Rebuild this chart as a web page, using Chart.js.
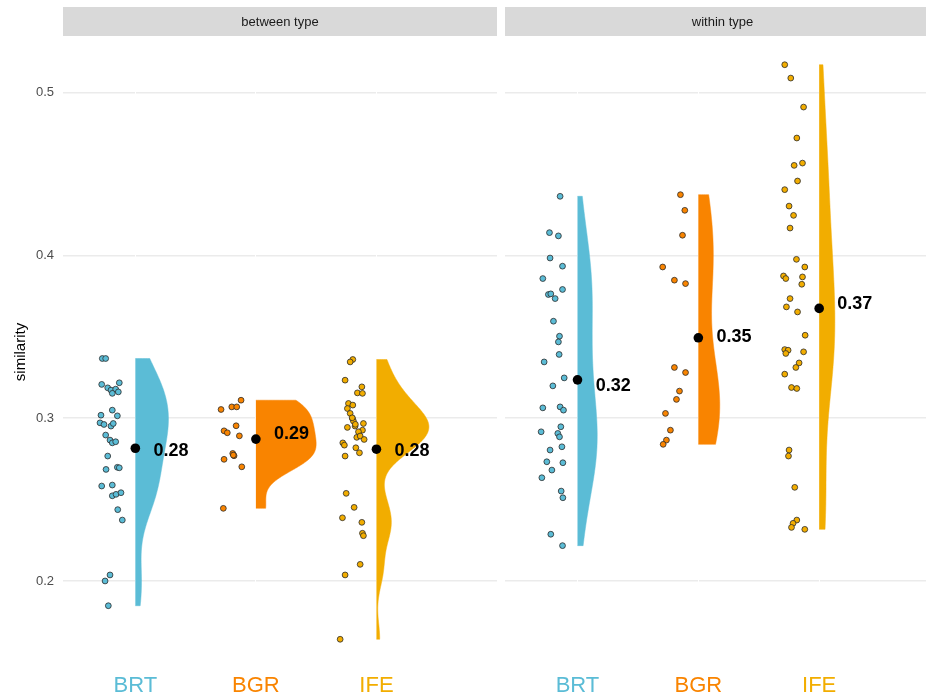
<!DOCTYPE html>
<html>
<head>
<meta charset="utf-8">
<script src="https://cdn.jsdelivr.net/npm/chart.js@4.4.0/dist/chart.umd.min.js"></script>
<style>
  html, body { margin: 0; padding: 0; background: #fff; width: 926px; height: 700px; overflow: hidden; }
  canvas { position: absolute; top: 0; }
  #left { left: 0; }
  #right { left: 505px; }
</style>
</head>
<body>
<canvas id="left" width="497" height="700"></canvas>
<canvas id="right" width="435" height="700"></canvas>
<script>
// categories, colours, facets
const categories = ['BRT', 'BGR', 'IFE'];
const colors = ['#5BBCD6', '#F98400', '#F2AD00'];
const panels = ['between type', 'within type'];
const yTicks = [0.2, 0.3, 0.4, 0.5];

// --- between type: similarity values + jitter offset (category units) ---
const betweenBRT = [0.3366, 0.3366, 0.3207, 0.3186, 0.3172, 0.3178, 0.3217, 0.3152, 0.3161, 0.3049,
  0.3018, 0.3014, 0.2971, 0.2961, 0.2951, 0.2967, 0.2896, 0.2865, 0.2848, 0.2855,
  0.2767, 0.2685, 0.2698, 0.2695, 0.2583, 0.2589, 0.2523, 0.2532, 0.2542, 0.2438,
  0.2374, 0.2037, 0.2000, 0.1848];
const betweenBRTjit = [-0.274, -0.246, -0.279, -0.229, -0.202, -0.163, -0.133, -0.191, -0.141, -0.191,
  -0.285, -0.149, -0.293, -0.260, -0.202, -0.183, -0.246, -0.210, -0.191, -0.163,
  -0.229, -0.243, -0.149, -0.133, -0.279, -0.191, -0.191, -0.160, -0.119, -0.146,
  -0.108, -0.210, -0.251, -0.224];

const betweenBGR = [0.3110, 0.3069, 0.3069, 0.3053, 0.2953, 0.2922, 0.2910, 0.2891, 0.2783, 0.2769,
  0.2773, 0.2747, 0.2701, 0.2446];
const betweenBGRjit = [-0.123, -0.200, -0.159, -0.289, -0.164, -0.264, -0.237, -0.137, -0.192, -0.181,
  -0.187, -0.264, -0.117, -0.270];

const betweenIFE = [0.3360, 0.3345, 0.3233, 0.3192, 0.3155, 0.3152, 0.3090, 0.3080, 0.3059, 0.3029,
  0.2998, 0.2982, 0.2943, 0.2951, 0.2967, 0.2926, 0.2916, 0.2882, 0.2890, 0.2869,
  0.2848, 0.2834, 0.2818, 0.2787, 0.2767, 0.2538, 0.2452, 0.2388, 0.2360, 0.2293,
  0.2278, 0.2102, 0.2037, 0.1642, 0.3002, 0.2962];
const betweenIFEjit = [-0.196, -0.218, -0.260, -0.121, -0.158, -0.116, -0.232, -0.196, -0.241, -0.218,
  -0.199, -0.191, -0.241, -0.177, -0.108, -0.116, -0.149, -0.163, -0.135, -0.102,
  -0.279, -0.266, -0.171, -0.141, -0.260, -0.251, -0.185, -0.282, -0.121, -0.116,
  -0.108, -0.135, -0.260, -0.301, -0.201, -0.175];

// --- within type ---
const withinBRT = [0.4362, 0.4139, 0.4119, 0.3983, 0.3933, 0.3857, 0.3759, 0.3763, 0.3734, 0.3790,
  0.3595, 0.3503, 0.3468, 0.3391, 0.3345, 0.3247, 0.3198, 0.3063, 0.3069, 0.3049,
  0.2916, 0.2947, 0.2906, 0.2885, 0.2804, 0.2824, 0.2732, 0.2726, 0.2681, 0.2634,
  0.2552, 0.2511, 0.2287, 0.2217];
const withinBRTjit = [-0.144, -0.232, -0.158, -0.227, -0.124, -0.287, -0.241, -0.221, -0.185, -0.124,
  -0.199, -0.149, -0.158, -0.152, -0.276, -0.110, -0.204, -0.287, -0.144, -0.116,
  -0.301, -0.138, -0.163, -0.149, -0.227, -0.129, -0.254, -0.121, -0.212, -0.295,
  -0.135, -0.121, -0.221, -0.124];

const withinBGR = [0.4372, 0.4276, 0.4123, 0.3928, 0.3847, 0.3826, 0.3311, 0.3280, 0.3166, 0.3115,
  0.3029, 0.2926, 0.2865, 0.2839];
const withinBGRjit = [-0.148, -0.112, -0.131, -0.295, -0.198, -0.106, -0.198, -0.106, -0.156, -0.181,
  -0.272, -0.231, -0.264, -0.291];

const withinIFE = [0.5170, 0.5088, 0.4910, 0.4720, 0.4552, 0.4566, 0.4456, 0.4403, 0.4302, 0.4245,
  0.4167, 0.3975, 0.3928, 0.3873, 0.3857, 0.3867, 0.3822, 0.3734, 0.3683, 0.3652,
  0.3509, 0.3421, 0.3417, 0.3397, 0.3407, 0.3339, 0.3311, 0.3270, 0.3188, 0.3182,
  0.2804, 0.2767, 0.2575, 0.2374, 0.2354, 0.2329, 0.2317];
const withinIFEjit = [-0.285, -0.235, -0.129, -0.185, -0.207, -0.138, -0.179, -0.285, -0.249, -0.212,
  -0.241, -0.188, -0.119, -0.295, -0.276, -0.138, -0.144, -0.241, -0.271, -0.179,
  -0.116, -0.285, -0.257, -0.276, -0.129, -0.166, -0.193, -0.285, -0.229, -0.185,
  -0.249, -0.254, -0.202, -0.185, -0.216, -0.229, -0.119];

const groups = [
  [{ v: betweenBRT, j: betweenBRTjit }, { v: betweenBGR, j: betweenBGRjit }, { v: betweenIFE, j: betweenIFEjit }],
  [{ v: withinBRT, j: withinBRTjit }, { v: withinBGR, j: withinBGRjit }, { v: withinIFE, j: withinIFEjit }]
];

const FONT = "'Liberation Sans', Arial, sans-serif";

// helpers
const mean = a => a.reduce((s, x) => s + x, 0) / a.length;

function quantile(sorted, p) {
  const h = (sorted.length - 1) * p;
  const lo = Math.floor(h);
  const hi = Math.min(lo + 1, sorted.length - 1);
  return sorted[lo] + (h - lo) * (sorted[hi] - sorted[lo]);
}

// R's bw.nrd0
function bandwidth(a) {
  const s = a.slice().sort((p, q) => p - q);
  const m = mean(a);
  const sd = Math.sqrt(a.reduce((t, x) => t + (x - m) * (x - m), 0) / (a.length - 1));
  const iqr = quantile(s, 0.75) - quantile(s, 0.25);
  const lo = Math.min(sd, iqr / 1.34);
  return 0.9 * lo * Math.pow(a.length, -0.2);
}

// gaussian kde, trimmed to the data range
function density(a, n = 256) {
  const bw = bandwidth(a);
  const lo = Math.min(...a), hi = Math.max(...a);
  const out = [];
  for (let i = 0; i < n; i++) {
    const y = lo + (hi - lo) * i / (n - 1);
    let d = 0;
    a.forEach(x => { const z = (y - x) / bw; d += Math.exp(-0.5 * z * z); });
    out.push({ y, d: d / (a.length * bw * Math.sqrt(2 * Math.PI)) });
  }
  return out;
}

const dens = groups.map(p => p.map(g => density(g.v)));
const maxDens = Math.max(...dens.flat().map(c => Math.max(...c.map(o => o.d))));
const HALF = 0.5; // widest violin reaches half a category

const allVals = groups.flat().flatMap(g => g.v);
const vMin = Math.min(...allVals), vMax = Math.max(...allVals);
const yMin = vMin - 0.05 * (vMax - vMin);
const yMax = vMax + 0.05 * (vMax - vMin);

function violin(curve, c) {
  const pts = [{ x: c, y: curve[0].y }];
  curve.forEach(o => pts.push({ x: c + o.d / maxDens * HALF, y: o.y }));
  pts.push({ x: c, y: curve[curve.length - 1].y });
  return pts;
}

// facet strip on top of each panel
const stripPlugin = label => ({
  id: 'strip',
  beforeDraw(chart) {
    const { ctx, chartArea: a } = chart;
    ctx.save();
    ctx.fillStyle = '#d9d9d9';
    ctx.fillRect(a.left, 7, a.right - a.left, 29);
    ctx.fillStyle = '#1a1a1a';
    ctx.font = '13px ' + FONT;
    ctx.textAlign = 'center';
    ctx.textBaseline = 'middle';
    ctx.fillText(label, (a.left + a.right) / 2, 22);
    ctx.restore();
  }
});

// rounded mean labels next to the black dots
const meanLabels = p => ({
  id: 'meanLabels',
  afterDatasetsDraw(chart) {
    const { ctx, scales: { x, y } } = chart;
    ctx.save();
    ctx.font = 'bold 18px ' + FONT;
    ctx.fillStyle = '#000';
    ctx.textAlign = 'left';
    ctx.textBaseline = 'middle';
    groups[p].forEach((g, i) => {
      const m = Math.round(mean(g.v) * 100) / 100;
      ctx.fillText(m.toFixed(2), x.getPixelForValue(i + 1 + 0.15), y.getPixelForValue(m));
    });
    ctx.restore();
  }
});

function makePanel(id, p, withAxis) {
  const datasets = [];
  groups[p].forEach((g, i) => {
    // tiny tension keeps chart.js off its fast path (which collapses near-vertical lines)
    datasets.push({
      type: 'line', data: violin(dens[p][i], i + 1), fill: 'shape',
      backgroundColor: colors[i], borderColor: colors[i], borderWidth: 0.5,
      pointRadius: 0, tension: 0.0001, order: 3
    });
    datasets.push({
      type: 'scatter', data: g.v.map((v, k) => ({ x: i + 1 + g.j[k], y: v })),
      backgroundColor: colors[i], borderColor: '#2b2b2b', borderWidth: 0.8,
      pointRadius: 2.9, order: 2
    });
  });
  datasets.push({
    type: 'scatter', data: groups[p].map((g, i) => ({ x: i + 1, y: mean(g.v) })),
    backgroundColor: '#000', borderColor: '#000', borderWidth: 0, pointRadius: 4.8, order: 1
  });

  new Chart(document.getElementById(id), {
    type: 'scatter',
    data: { datasets },
    options: {
      responsive: false,
      animation: false,
      layout: { autoPadding: false, padding: { top: 36, right: 0, bottom: 0, left: 0 } },
      plugins: { legend: { display: false }, tooltip: { enabled: false } },
      scales: {
        y: {
          type: 'linear', min: yMin, max: yMax,
          afterBuildTicks: s => { s.ticks = yTicks.map(v => ({ value: v })); },
          afterFit: s => { s.width = withAxis ? 63 : 0; },
          grid: { color: '#ebebeb', lineWidth: 1.4, drawTicks: false, z: -1 },
          border: { display: false },
          ticks: {
            display: withAxis, color: '#4d4d4d', padding: 9,
            font: { size: 13, family: FONT }, callback: v => v.toFixed(1)
          },
          title: {
            display: withAxis, text: 'similarity', color: '#000',
            font: { size: 15, family: FONT }, padding: { top: 12, bottom: 0 }
          }
        },
        x: {
          type: 'linear', min: 0.4, max: 4.0,
          afterBuildTicks: s => { s.ticks = categories.map((c, i) => ({ value: i + 1 })); },
          afterFit: s => { s.height = 32; },
          grid: { color: '#ffffff', lineWidth: 1, drawTicks: false, z: -0.5 },
          border: { display: false },
          ticks: {
            autoSkip: false, maxRotation: 0, padding: 5,
            font: { size: 22, family: FONT },
            color: ctx => colors[ctx.index],
            callback: (v, i) => categories[i]
          }
        }
      }
    },
    plugins: [stripPlugin(panels[p]), meanLabels(p)]
  });
}

makePanel('left', 0, true);
makePanel('right', 1, false);
</script>
</body>
</html>
